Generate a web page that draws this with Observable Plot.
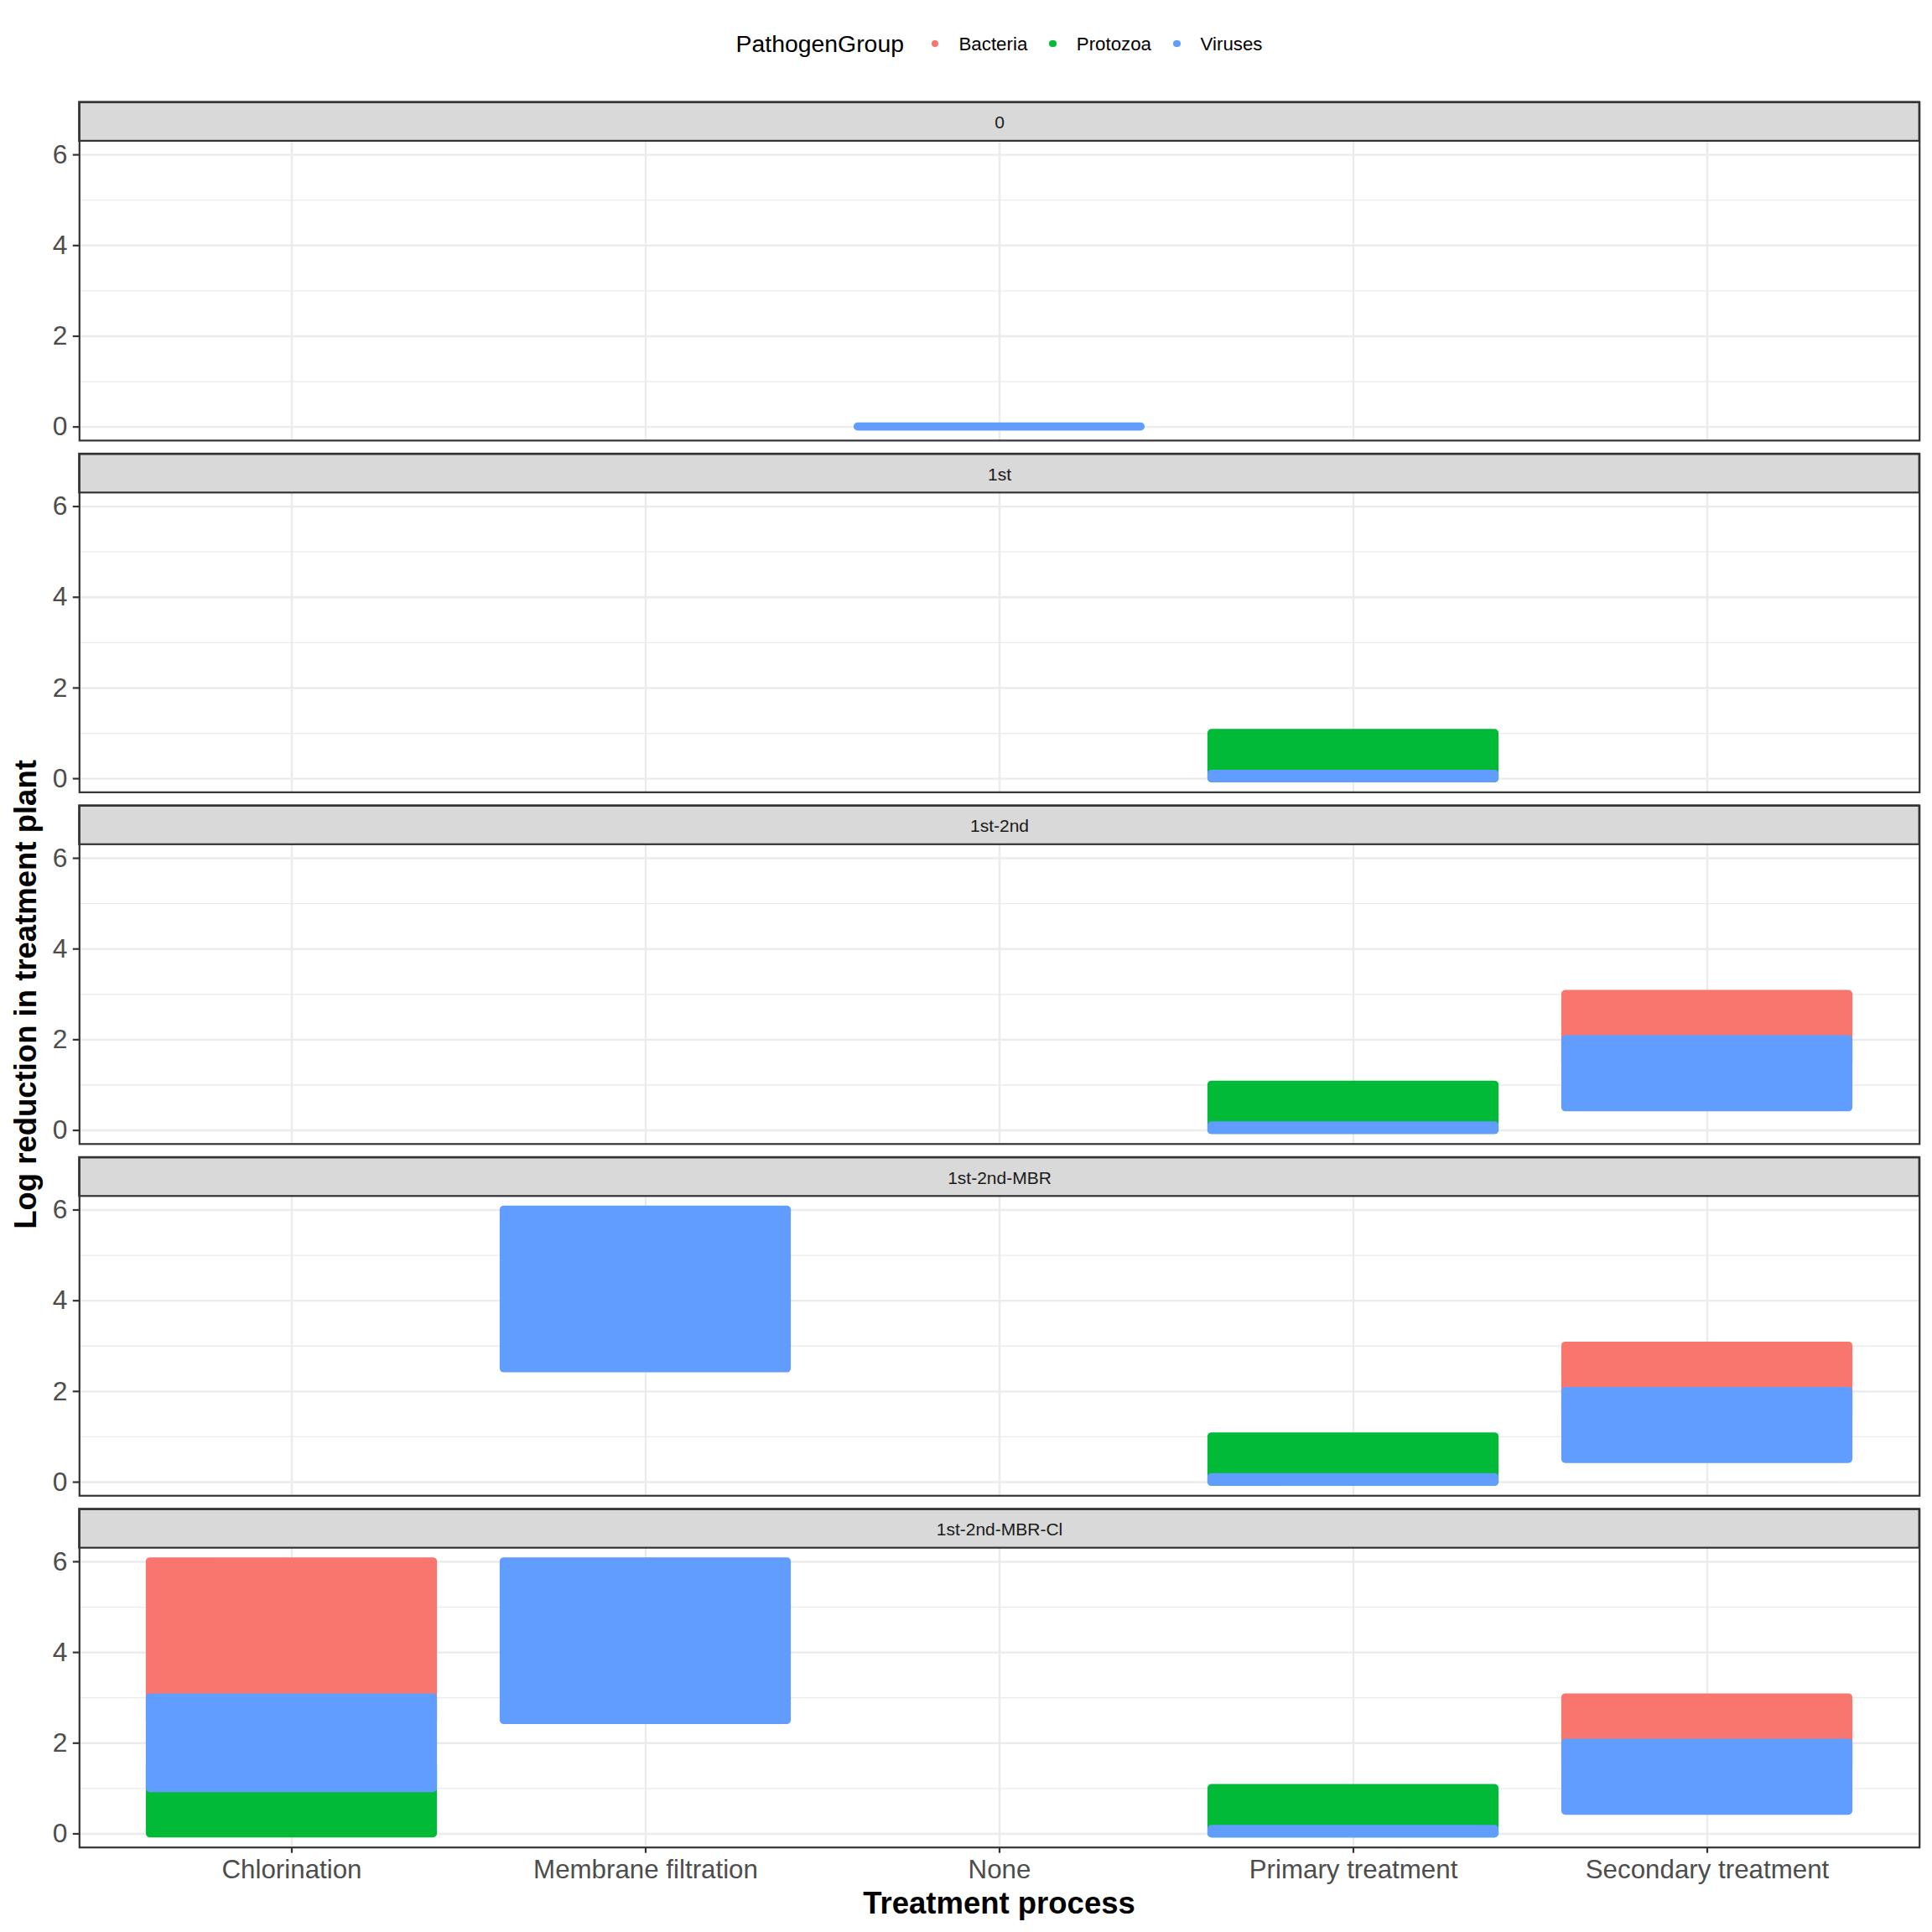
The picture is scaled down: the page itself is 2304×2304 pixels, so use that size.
<!DOCTYPE html>
<html>
<head>
<meta charset="utf-8">
<script src="https://cdn.jsdelivr.net/npm/d3@7"></script>
<script src="https://cdn.jsdelivr.net/npm/@observablehq/plot@0.6"></script>
<style>
  html, body { margin: 0; padding: 0; background: #ffffff; }
  body { font-family: "Liberation Sans", Arial, sans-serif; }
  #wrap { position: relative; width: 2304px; height: 2304px; background: #ffffff; }
  #chart { position: absolute; left: 0; top: 100px; }
  #legend { position: absolute; left: 0; top: 0; width: 2304px; height: 104px; box-sizing: border-box;
            padding-left: 94px; padding-right: 15px; display: flex; align-items: center; justify-content: center; z-index: 2; }
  #legend .title { font-size: 28.4px; line-height: 1; color: #000; margin-right: 33px; }
  #legend .dot { width: 8.5px; height: 8.5px; border-radius: 50%; margin-right: 24px; }
  #legend .lab { font-size: 22.3px; line-height: 1; color: #000; margin-right: 26px; position: relative; top: 1.5px; }
  #legend .lab:last-child { margin-right: 0; }
</style>
</head>
<body>
<div id="wrap">
  <div id="legend"></div>
  <div id="chart"></div>
</div>
<script>
// ---------- data ----------
const facets = ["0", "1st", "1st-2nd", "1st-2nd-MBR", "1st-2nd-MBR-Cl"];
const processes = ["Chlorination", "Membrane filtration", "None", "Primary treatment", "Secondary treatment"];
const groups = ["Bacteria", "Protozoa", "Viruses"];
const groupColors = ["#F8766D", "#00BA38", "#619CFF"];
const yTicks = [0, 2, 4, 6];
const yMinor = [1, 3, 5];
const legendTitle = "PathogenGroup";
const xTitle = "Treatment process";
const yTitle = "Log reduction in treatment plant";

// Ranges of log reduction (low..high), drawn in group order
const rangeFacet   = ["0",
                      "1st", "1st",
                      "1st-2nd", "1st-2nd", "1st-2nd", "1st-2nd",
                      "1st-2nd-MBR", "1st-2nd-MBR", "1st-2nd-MBR", "1st-2nd-MBR", "1st-2nd-MBR",
                      "1st-2nd-MBR-Cl", "1st-2nd-MBR-Cl", "1st-2nd-MBR-Cl", "1st-2nd-MBR-Cl", "1st-2nd-MBR-Cl", "1st-2nd-MBR-Cl", "1st-2nd-MBR-Cl", "1st-2nd-MBR-Cl"];
const rangeProcess = ["None",
                      "Primary treatment", "Primary treatment",
                      "Secondary treatment", "Primary treatment", "Primary treatment", "Secondary treatment",
                      "Secondary treatment", "Primary treatment", "Membrane filtration", "Primary treatment", "Secondary treatment",
                      "Chlorination", "Secondary treatment", "Chlorination", "Primary treatment", "Chlorination", "Membrane filtration", "Primary treatment", "Secondary treatment"];
const rangeGroup   = ["Viruses",
                      "Protozoa", "Viruses",
                      "Bacteria", "Protozoa", "Viruses", "Viruses",
                      "Bacteria", "Protozoa", "Viruses", "Viruses", "Viruses",
                      "Bacteria", "Bacteria", "Protozoa", "Protozoa", "Viruses", "Viruses", "Viruses", "Viruses"];
const rangeLow     = [0,
                      0, 0,
                      1.5, 0, 0, 0.5,
                      1.5, 0, 2.5, 0, 0.5,
                      2.5, 1.5, 0, 0, 1.0, 2.5, 0, 0.5];
const rangeHigh    = [0,
                      1.0, 0.1,
                      3.0, 1.0, 0.1, 2.0,
                      3.0, 1.0, 6.0, 0.1, 2.0,
                      6.0, 3.0, 1.5, 1.0, 3.0, 6.0, 0.1, 2.0];

const rows = rangeFacet.map((f, i) => ({
  facet: f, process: rangeProcess[i], group: rangeGroup[i], lo: rangeLow[i], hi: rangeHigh[i]
}));

// ---------- layout ----------
const W = 2304, H = 2204;
const mL = 94.3, mR = 15.3, mT = 21.5, mB = 101.3;
const yLo = -0.3, yHi = 6.3;
const stripTop = yHi + 46.4 / 54.09;
const pointR = 4.8;
const font = "'Liberation Sans', Arial, sans-serif";

const plot = Plot.plot({
  width: W, height: H,
  marginLeft: mL, marginRight: mR, marginTop: mT, marginBottom: mB,
  style: { fontFamily: font, background: "#ffffff" },
  x: { type: "band", domain: processes, paddingInner: 0.2, paddingOuter: 0.2, round: false, label: null },
  y: { domain: [yLo, stripTop], label: null },
  fy: { domain: facets, paddingInner: 0.0383, paddingOuter: 0, round: false, axis: null, label: null },
  color: { domain: groups, range: groupColors },
  marks: [
    Plot.ruleY(yMinor, { stroke: "#EBEBEB", strokeWidth: 1.3 }),
    Plot.ruleY(yTicks, { stroke: "#EBEBEB", strokeWidth: 2.4 }),
    Plot.ruleX(processes, { y1: yLo, y2: yHi, stroke: "#EBEBEB", strokeWidth: 2.4 }),
    Plot.barY(rows, { fy: "facet", x: "process", y1: "lo", y2: "hi", fill: "group",
                      insetLeft: -pointR, insetRight: -pointR, insetTop: -pointR, insetBottom: -pointR, rx: pointR }),
    Plot.rect(facets, { fy: d => d, y1: yHi, y2: stripTop, fill: "#D9D9D9", stroke: "#333333", strokeWidth: 2.2 }),
    Plot.text(facets, { fy: d => d, y: (yHi + stripTop) / 2, text: d => d, frameAnchor: "middle",
                        fontSize: 21, fill: "#1A1A1A", dy: 1.5 }),
    Plot.frame({ stroke: "#333333", strokeWidth: 2.2 }),
    Plot.axisY({ ticks: yTicks, tickSize: 7.5, tickPadding: 6.8, fontSize: 31.8,
                 fill: "#4D4D4D", stroke: "#333333", strokeWidth: 2.2, label: null }),
    Plot.axisX({ tickSize: 7, tickPadding: 8, fontSize: 31.3,
                 fill: "#4D4D4D", stroke: "#333333", strokeWidth: 2.2, label: null })
  ]
});

const svg = d3.select(plot);
svg.append("text")
  .attr("x", (mL + (W - mR)) / 2).attr("y", 2181.7)
  .attr("text-anchor", "middle")
  .attr("font-family", font).attr("font-size", 36.5).attr("font-weight", "bold").attr("fill", "#000")
  .text(xTitle);
svg.append("text")
  .attr("transform", `translate(43.3, ${1186 - 100}) rotate(-90)`)
  .attr("text-anchor", "middle")
  .attr("font-family", font).attr("font-size", 36.5).attr("font-weight", "bold").attr("fill", "#000")
  .text(yTitle);

document.getElementById("chart").appendChild(plot);

// ---------- legend ----------
const legend = d3.select("#legend");
legend.append("span").attr("class", "title").text(legendTitle);
groups.forEach((g, i) => {
  legend.append("span").attr("class", "dot").style("background", groupColors[i]);
  legend.append("span").attr("class", "lab").text(g);
});
</script>
</body>
</html>
